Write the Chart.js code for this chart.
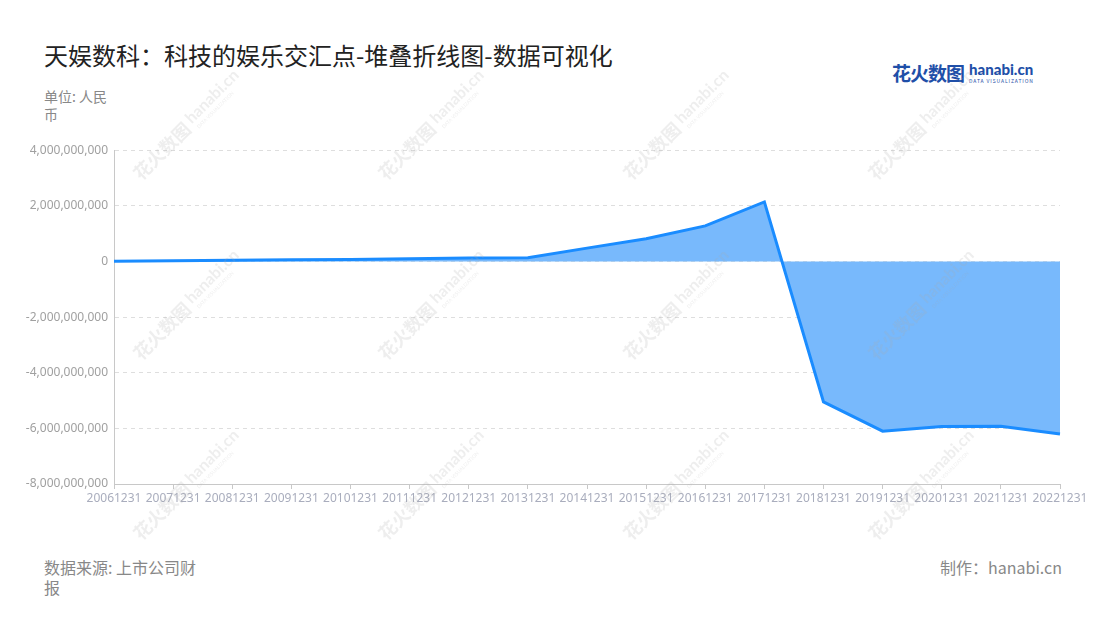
<!DOCTYPE html>
<html>
<head>
<meta charset="utf-8">
<script src="https://cdn.jsdelivr.net/npm/chart.js@4.4.1/dist/chart.umd.min.js"></script>
<style>
  body { margin: 0; background: #fff; font-family: "Noto Sans CJK SC", "Noto Sans", sans-serif; }
  #page { position: relative; width: 1100px; height: 620px; overflow: hidden; }
  #title { position: absolute; left: 44px; top: 39px; font-size: 24px; color: #222; line-height: 32px; }
  #unit { position: absolute; left: 44px; top: 87px; width: 72px; font-size: 14px; color: #888; line-height: 18px; }
  #chartBox { position: absolute; left: 0; top: 137px; width: 1100px; height: 377px; }
  #source { position: absolute; left: 44px; top: 557px; width: 162px; font-size: 16px; color: #888; line-height: 20px; }
  #maker { position: absolute; right: 38px; top: 557px; font-size: 16px; color: #888; line-height: 20px; }
  #logo { position: absolute; left: 892px; top: 60px; height: 26px; white-space: nowrap; }
  #logo .cn { font-size: 19px; font-weight: bold; color: #1f4fa8; vertical-align: top; line-height: 26px; letter-spacing: -1px; }
  #logo .en { display: inline-block; margin-left: 5px; vertical-align: top; line-height: 1; }
  #logo .en b { display: block; font-family: "Lato", sans-serif; font-size: 15px; color: #1f4fa8; font-weight: 900; margin-top: 2px; }
  #logo .en i { display: block; font-style: normal; font-size: 5px; color: #1f4fa8; letter-spacing: 0.9px; margin-top: 1px; }
  #wm { position: absolute; left: 0; top: 0; pointer-events: none; }
</style>
</head>
<body>
<div id="page">
  <div id="title">天娱数科：科技的娱乐交汇点-堆叠折线图-数据可视化</div>
  <div id="unit">单位: 人民币</div>
  <div id="logo"><span class="cn">花火数图</span><span class="en"><b>hanabi.cn</b><i>DATA VISUALIZATION</i></span></div>
  <div id="chartBox"><canvas id="chart"></canvas></div>
  <div id="source">数据来源: 上市公司财报</div>
  <div id="maker">制作：hanabi.cn</div>
  <canvas id="wm" width="1100" height="620"></canvas>
</div>
<script>
// DATA
const categories = ["20061231", "20071231", "20081231", "20091231", "20101231", "20111231",
    "20121231", "20131231", "20141231", "20151231", "20161231", "20171231", "20181231",
    "20191231", "20201231", "20211231", "20221231"];
const profitValues = [10e6, 30e6, 45e6, 60e6, 70e6, 100e6, 125e6, 130e6, 480e6, 820e6,
    1280e6, 2140e6, -5050e6, -6100e6, -5930e6, -5920e6, -6200e6];
const yTicks = [4e9, 2e9, 0, -2e9, -4e9, -6e9, -8e9];

// CHART
new Chart(document.getElementById("chart"), {
    type: "line",
    data: {
        labels: categories,
        datasets: [{
            label: "天娱数科",
            data: profitValues,
            borderColor: "#1a8cff",
            backgroundColor: "#78b9fc",
            borderWidth: 3,
            pointRadius: 0,
            tension: 0,
            fill: "origin"
        }]
    },
    options: {
        responsive: true,
        maintainAspectRatio: false,
        animation: false,
        layout: { padding: { top: 10, right: 40, left: 0, bottom: 0 } },
        plugins: { legend: { display: false }, tooltip: { enabled: false } },
        scales: {
            x: {
                grid: { drawOnChartArea: false, drawTicks: true, tickLength: 5, color: "#c8c8c8" },
                border: { color: "#c8c8c8" },
                ticks: {
                    autoSkip: false, maxRotation: 0, minRotation: 0, padding: 2,
                    color: "#a9adbd", font: { size: 12, family: "Noto Sans" }
                },
                afterFit: (s) => { s.height = 30; }
            },
            y: {
                min: Math.min(...yTicks),
                max: Math.max(...yTicks),
                afterBuildTicks: (s) => { s.ticks = yTicks.map(v => ({ value: v })); },
                grid: { color: "#dedede", drawTicks: false },
                border: { color: "#c8c8c8", dash: [4, 4] },
                ticks: {
                    padding: 6, color: "#a0a0a0", font: { size: 12, family: "Noto Sans" },
                    callback: (v) => Number(v).toLocaleString("en-US")
                },
                afterFit: (s) => { s.width = 114; }
            }
        }
    }
});

// WATERMARK
const wm = document.getElementById("wm").getContext("2d");
const wmCols = [186, 431, 676, 921];
const wmRows = [127, 307, 487];
wmRows.forEach(cy => wmCols.forEach(cx => {
    wm.save();
    wm.translate(cx, cy);
    wm.rotate(-Math.PI / 4);
    wm.fillStyle = "rgba(170,170,170,0.2)";
    wm.textBaseline = "middle";
    wm.font = "bold 18px 'Noto Sans CJK SC'";
    wm.fillText("花火数图", -70, 0);
    wm.font = "bold 16px Lato";
    wm.fillText("hanabi.cn", 6, -3);
    wm.font = "5px 'Noto Sans'";
    wm.fillText("DATA VISUALIZATION", 8, 9);
    wm.restore();
}));
</script>
</body>
</html>
